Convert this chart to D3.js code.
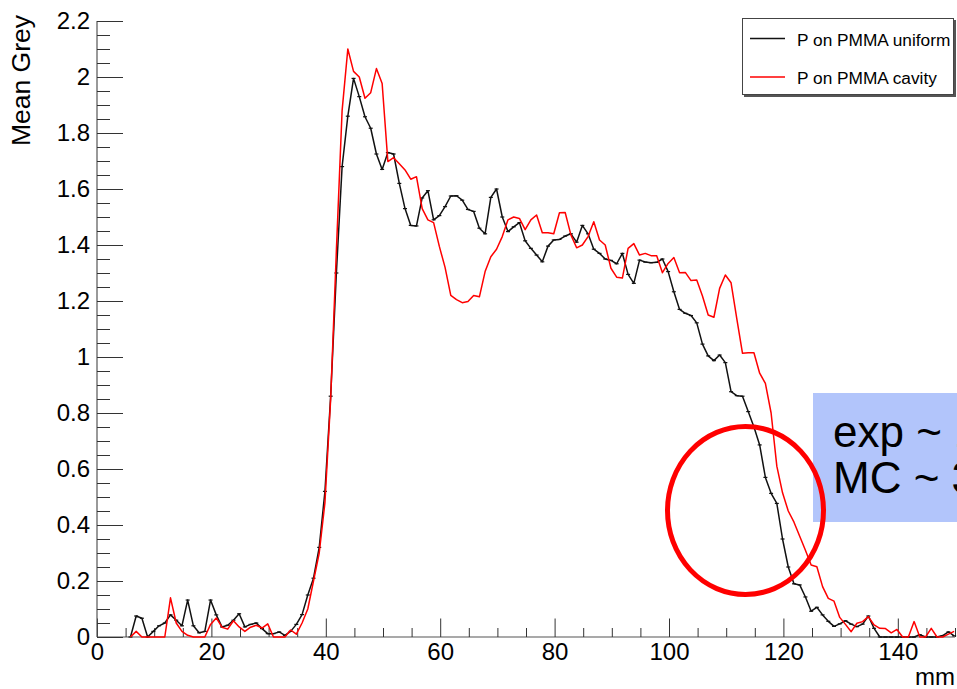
<!DOCTYPE html>
<html>
<head>
<meta charset="utf-8">
<script src="https://cdn.jsdelivr.net/npm/d3@7"></script>
<style>
  html, body { margin: 0; padding: 0; background: #fff; }
  svg { display: block; font-family: "Liberation Sans", Arial, Helvetica, sans-serif; }
</style>
</head>
<body>
<svg id="chart" width="957" height="689"></svg>
<script>
// Depth profile of the mean grey level, 1 mm bins from 5 mm to 150 mm
const binStart = 5;
const binOffset = 0.85;

const uniformValues = [
  0.0, 0.075, 0.067, 0.0, 0.02, 0.04, 0.05, 0.079, 0.06, 0.04,
  0.132, 0.04, 0.015, 0.02, 0.132, 0.079, 0.036, 0.042, 0.06, 0.083,
  0.036, 0.045, 0.05, 0.03, 0.012, 0.012, 0.018, 0.006, 0.02, 0.045,
  0.08, 0.15, 0.21, 0.32, 0.52, 0.86, 1.3, 1.68, 1.86, 1.995,
  1.93, 1.858, 1.817, 1.725, 1.67, 1.73, 1.725, 1.62, 1.53, 1.47,
  1.468, 1.568, 1.594, 1.49, 1.505, 1.537, 1.575, 1.576, 1.56, 1.527,
  1.52, 1.46, 1.44, 1.57, 1.6, 1.5, 1.448, 1.465, 1.48, 1.415,
  1.388, 1.364, 1.34, 1.396, 1.418, 1.42, 1.432, 1.44, 1.41, 1.47,
  1.44, 1.385, 1.37, 1.35, 1.345, 1.333, 1.37, 1.295, 1.263, 1.346,
  1.339, 1.337, 1.338, 1.35, 1.305, 1.233, 1.17, 1.156, 1.148, 1.122,
  1.046, 1.004, 0.987, 1.007, 0.98, 0.876, 0.862, 0.86, 0.805, 0.75,
  0.686, 0.57, 0.513, 0.477, 0.35, 0.25, 0.19, 0.186, 0.143, 0.092,
  0.106, 0.079, 0.056, 0.038, 0.047, 0.058, 0.046, 0.037, 0.046, 0.075,
  0.031, 0, 0, 0, 0, 0, 0, 0, 0.008, 0,
  0, 0, 0.005, 0.018, 0.004
];

const cavityValues = [
  0, 0.02, 0, 0, 0, 0, 0, 0.14, 0.05, 0.02,
  0.006, 0, 0, 0, 0.045, 0.068, 0.035, 0.028, 0.058, 0.036,
  0.02, 0.035, 0.042, 0.032, 0.047, 0, 0, 0, 0.025, 0.01,
  0.05, 0.1, 0.2, 0.3, 0.48, 0.85, 1.38, 1.88, 2.1, 2.02,
  2.0, 1.924, 1.944, 2.03, 1.977, 1.698, 1.712, 1.69, 1.668, 1.635,
  1.644, 1.53, 1.49, 1.48, 1.395, 1.32, 1.22, 1.205, 1.194, 1.198,
  1.22, 1.215, 1.305, 1.358, 1.385, 1.43, 1.49, 1.5, 1.495, 1.455,
  1.49, 1.507, 1.444, 1.444, 1.44, 1.515, 1.516, 1.436, 1.39, 1.4,
  1.43, 1.483, 1.418, 1.4, 1.317, 1.285, 1.282, 1.388, 1.405, 1.364,
  1.37, 1.362, 1.362, 1.301, 1.334, 1.355, 1.301, 1.302, 1.273, 1.275,
  1.218, 1.15, 1.142, 1.245, 1.293, 1.265, 1.137, 1.013, 1.015, 1.015,
  0.942, 0.906, 0.8, 0.61, 0.515, 0.45, 0.41, 0.36, 0.31, 0.257,
  0.251, 0.18, 0.138, 0.128, 0.07, 0.045, 0.019, 0.049, 0.055, 0.073,
  0.043, 0.031, 0.03, 0.015, 0.027, 0, 0, 0.055, 0, 0,
  0.031, 0, 0, 0.01, 0.02
];

const xMajorTicks = [0, 20, 40, 60, 80, 100, 120, 140];
const yMajorTicks = [0, 0.2, 0.4, 0.6, 0.8, 1, 1.2, 1.4, 1.6, 1.8, 2, 2.2];
const seriesNames = ["P on PMMA uniform", "P on PMMA cavity"];
const seriesColors = ["#111111", "#ff0000"];
const axisTitles = { x: "mm", y: "Mean Grey" };
const noteLines = ["exp ~ 1 mm", "MC ~ 3 mm"];

const svg = d3.select("#chart");

const x = d3.scaleLinear().domain([0, 150]).range([97, 955]);
const y = d3.scaleLinear().domain([0, 2.2]).range([637, 21]);

const toPoints = vals => vals.map((v, i) => ({ x: binStart + i + binOffset, v }));
const uniform = toPoints(uniformValues);
const cavity = toPoints(cavityValues);

// minor tick positions: x every 5 mm, y every 0.05
const xMinor = d3.range(0, 151, 5).filter(d => d % 20 !== 0);
const yMinor = d3.range(0, 2.2001, 0.05).map(d => +d.toFixed(2))
  .filter(d => Math.abs(d * 5 - Math.round(d * 5)) > 1e-6);

const fmt = d => String(+d.toFixed(1));

// x axis
const gx = svg.append("g").attr("transform", `translate(0,${y(0)})`);
gx.call(d3.axisBottom(x).tickValues(xMajorTicks).tickSize(-18.5).tickPadding(6).tickFormat(fmt));
const gxm = svg.append("g").attr("transform", `translate(0,${y(0)})`);
gxm.call(d3.axisBottom(x).tickValues(xMinor).tickSize(-9).tickFormat(""));

// y axis
const gy = svg.append("g").attr("transform", `translate(${x(0)},0)`);
gy.call(d3.axisLeft(y).tickValues(yMajorTicks).tickSize(-26).tickPadding(7).tickFormat(fmt));
const gym = svg.append("g").attr("transform", `translate(${x(0)},0)`);
gym.call(d3.axisLeft(y).tickValues(yMinor).tickSize(-13).tickFormat(""));

[gx, gxm, gy, gym].forEach(g => {
  g.selectAll(".domain").attr("stroke", "#555").attr("stroke-width", 1.2);
  g.selectAll(".tick line").attr("stroke", "#333").attr("stroke-width", 1);
  g.selectAll("text").attr("fill", "#000").style("font-size", "24px")
    .style("font-family", "'Liberation Sans', Arial, sans-serif");
});
gxm.select(".domain").remove();
gym.select(".domain").remove();
gx.select(".domain").attr("d", `M${x(0)},0H${x(150)}`);
gy.select(".domain").attr("d", `M0,${y(0)}V${y(2.2)}`);

// axis titles
svg.append("text")
  .attr("x", 955).attr("y", 685)
  .attr("text-anchor", "end")
  .style("font-size", "24px")
  .text(axisTitles.x);
svg.append("text")
  .attr("transform", "translate(30,15) rotate(-90)")
  .attr("text-anchor", "end")
  .style("font-size", "26.5px")
  .text(axisTitles.y);

// curves
const line = d3.line().x(d => x(d.x)).y(d => y(d.v));
const plot = svg.append("g");
plot.append("path").datum(uniform)
  .attr("fill", "none").attr("stroke", seriesColors[0]).attr("stroke-width", 1.5)
  .attr("stroke-linejoin", "round").attr("d", line);
plot.selectAll(".mk").data(uniform).join("line")
  .attr("class", "mk")
  .attr("x1", d => x(d.x) - 2).attr("x2", d => x(d.x) + 2)
  .attr("y1", d => y(d.v)).attr("y2", d => y(d.v))
  .attr("stroke", seriesColors[0]).attr("stroke-width", 1.2);
plot.append("path").datum(cavity)
  .attr("fill", "none").attr("stroke", seriesColors[1]).attr("stroke-width", 1.5)
  .attr("stroke-linejoin", "round").attr("d", line);

// legend
const lg = svg.append("g");
lg.append("rect").attr("x", 744).attr("y", 20).attr("width", 212).attr("height", 77)
  .attr("fill", "#555");
lg.append("rect").attr("x", 742.5).attr("y", 18.5).attr("width", 211).attr("height", 76)
  .attr("fill", "#fff").attr("stroke", "#444").attr("stroke-width", 1);
seriesNames.forEach((name, i) => {
  const ly = 38.5 + i * 38.5;
  lg.append("line").attr("x1", 750).attr("x2", 785).attr("y1", ly).attr("y2", ly)
    .attr("stroke", seriesColors[i]).attr("stroke-width", 1.3);
  lg.append("text").attr("x", 797).attr("y", ly + 7)
    .style("font-size", "17.3px").attr("fill", "#000").text(name);
});

// annotation box and circle
svg.append("rect").attr("x", 813).attr("y", 393).attr("width", 200).attr("height", 129)
  .attr("fill", "#b2c5fb");
noteLines.forEach((t, i) => {
  svg.append("text").attr("x", 833).attr("y", 447 + i * 46)
    .style("font-size", "44px").attr("fill", "#000").text(t);
});
svg.append("ellipse").attr("cx", 745.5).attr("cy", 510.5).attr("rx", 78).attr("ry", 84)
  .attr("fill", "none").attr("stroke", "#ff0000").attr("stroke-width", 5);
</script>
</body>
</html>
